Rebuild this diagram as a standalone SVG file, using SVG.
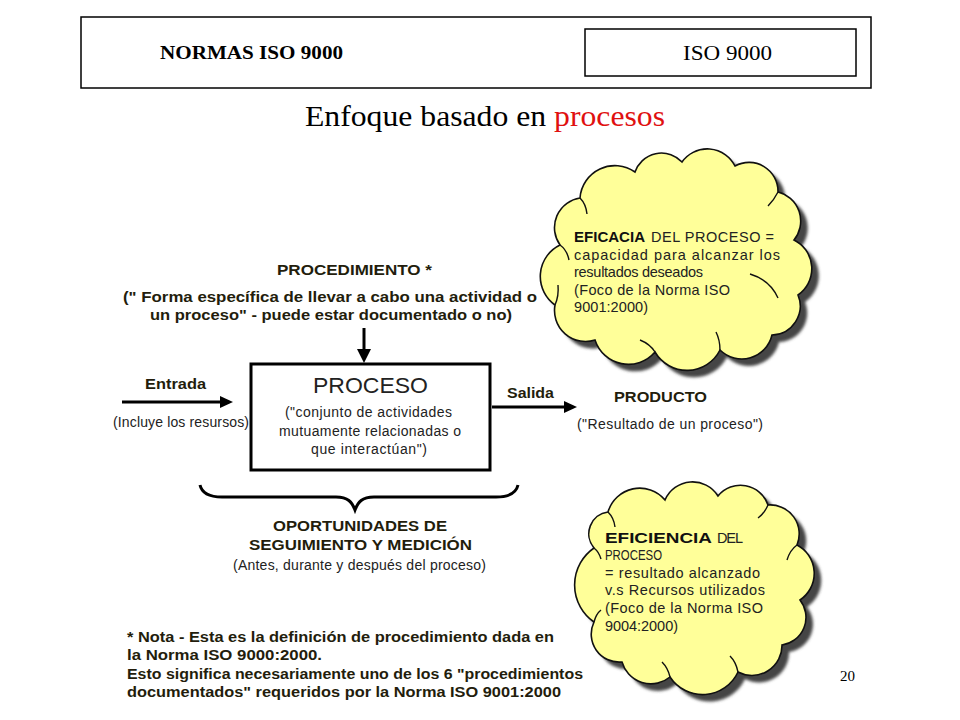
<svg xmlns="http://www.w3.org/2000/svg" width="960" height="720" viewBox="0 0 960 720">
<defs>
<style>
.serif{font-family:"Liberation Serif","Times New Roman",serif;fill:#000}
.sb{font-family:"Liberation Sans",Arial,sans-serif;font-weight:bold;fill:#231d0c}
.sr{font-family:"Liberation Sans",Arial,sans-serif;fill:#222}
.cr{font-family:"Liberation Sans",Arial,sans-serif;fill:#222;font-size:14.5px}
.cb{font-family:"Liberation Sans",Arial,sans-serif;font-weight:bold;fill:#111;font-size:14.5px}
.ln{stroke:#000;stroke-width:3;fill:none}
.cloud{fill:#ffff99;stroke:#111;stroke-width:1.6}
.curl{fill:none;stroke:#111;stroke-width:1.4}
.shadow{fill:#444}
</style>
<filter id="blur" x="-10%" y="-10%" width="120%" height="120%"><feGaussianBlur stdDeviation="1.6"/></filter>
<path id="c1" d="M560,245 A30,30 0 0 1 580,198 A35,35 0 0 1 635,172 A28,28 0 0 1 682,162 A31,31 0 0 1 735,166 A29,29 0 0 1 778,192 A30,30 0 0 1 794,240 A32,32 0 0 1 798,295 A29,29 0 0 1 772,335 A31,31 0 0 1 720,350 A37,37 0 0 1 655,352 A35,35 0 0 1 595,340 A31,31 0 0 1 555,305 A35,35 0 0 1 560,245 Z"/>
<path id="c2" d="M594,548 A22,22 0 0 1 608,512 A33,33 0 0 1 665,500 A30,30 0 0 1 718,496 A29,29 0 0 1 768,505 A29,29 0 0 1 797,545 A32,32 0 0 1 800,600 A28,28 0 0 1 782,645 A30,30 0 0 1 738,672 A39,39 0 0 1 670,677 A30,30 0 0 1 622,662 A28,28 0 0 1 594,622 A45,45 0 0 1 594,548 Z"/>
</defs>
<rect width="960" height="720" fill="#fff"/>

<g id="header">
<rect x="81" y="17" width="790" height="71" fill="none" stroke="#000" stroke-width="1.5"/>
<text class="serif" x="160" y="59" font-size="18" font-weight="bold" textLength="183" lengthAdjust="spacingAndGlyphs">NORMAS ISO 9000</text>
<rect x="585" y="29" width="271" height="47" fill="none" stroke="#000" stroke-width="1.5"/>
<text class="serif" x="683" y="60" font-size="21" textLength="89" lengthAdjust="spacingAndGlyphs">ISO 9000</text>
</g>

<g id="title">
<text class="serif" x="305" y="126" font-size="29" textLength="360" lengthAdjust="spacingAndGlyphs">Enfoque basado en <tspan fill="#e01010">procesos</tspan></text>
</g>

<g id="procedimiento">
<text class="sb" x="277" y="275" font-size="14" textLength="155" lengthAdjust="spacingAndGlyphs">PROCEDIMIENTO *</text>
<text class="sb" x="123" y="302" font-size="15" textLength="414" lengthAdjust="spacingAndGlyphs">(" Forma específica de llevar a cabo una actividad o</text>
<text class="sb" x="150" y="320" font-size="15" textLength="362" lengthAdjust="spacingAndGlyphs">un proceso" - puede estar documentado o no)</text>
</g>

<g id="proceso">
<rect x="251" y="364" width="239" height="106" fill="#fff" stroke="#000" stroke-width="3"/>
<text class="sr" x="313" y="393" font-size="22" textLength="115" lengthAdjust="spacingAndGlyphs">PROCESO</text>
<text class="sr" x="285" y="417" font-size="14" textLength="167" lengthAdjust="spacing">("conjunto de actividades</text>
<text class="sr" x="279" y="436" font-size="14" textLength="182" lengthAdjust="spacing">mutuamente relacionadas o</text>
<text class="sr" x="311" y="454" font-size="14" textLength="116" lengthAdjust="spacing">que interactúan")</text>
</g>

<g id="entrada">
<text class="sb" x="145" y="389" font-size="14" textLength="61" lengthAdjust="spacingAndGlyphs">Entrada</text>
<text class="sr" x="113" y="427" font-size="14" textLength="136" lengthAdjust="spacing">(Incluye los resursos)</text>
</g>

<g id="salida">
<text class="sb" x="507" y="398" font-size="14" textLength="47" lengthAdjust="spacingAndGlyphs">Salida</text>
</g>

<g id="producto">
<text class="sb" x="614" y="402" font-size="14" textLength="93" lengthAdjust="spacingAndGlyphs">PRODUCTO</text>
<text class="sr" x="577" y="429" font-size="14" textLength="186" lengthAdjust="spacing">("Resultado de un proceso")</text>
</g>

<g id="oportunidades">
<text class="sb" x="273" y="531" font-size="14" textLength="174" lengthAdjust="spacingAndGlyphs">OPORTUNIDADES DE</text>
<text class="sb" x="249" y="550" font-size="14" textLength="223" lengthAdjust="spacingAndGlyphs">SEGUIMIENTO Y MEDICIÓN</text>
<text class="sr" x="233" y="570" font-size="14" textLength="253" lengthAdjust="spacing">(Antes, durante y después del proceso)</text>
</g>

<g id="nota">
<text class="sb" x="127" y="642" font-size="14" textLength="427" lengthAdjust="spacingAndGlyphs">* Nota - Esta es la definición de procedimiento dada en</text>
<text class="sb" x="127" y="660" font-size="14" textLength="195" lengthAdjust="spacingAndGlyphs">la Norma ISO 9000:2000.</text>
<text class="sb" x="127" y="679" font-size="14" textLength="456" lengthAdjust="spacingAndGlyphs">Esto significa necesariamente uno de los 6 "procedimientos</text>
<text class="sb" x="127" y="697" font-size="14" textLength="434" lengthAdjust="spacingAndGlyphs">documentados" requeridos por la Norma ISO 9001:2000</text>
</g>

<g id="connectors">
<line class="ln" x1="364" y1="328" x2="364" y2="351"/>
<polygon points="357,349 371,349 364,363" fill="#000"/>
<line class="ln" x1="122" y1="402" x2="222" y2="402"/>
<polygon points="220,396 220,408 233,402" fill="#000"/>
<line class="ln" x1="492" y1="407" x2="566" y2="407"/>
<polygon points="564,401 564,413 577,407" fill="#000"/>
<path class="ln" d="M200,485 C202,494 210,497 222,497 L336,497 C348,497 352,502 355,510 C358,502 362,497 374,497 L496,497 C508,497 516,494 518,485"/>
</g>

<g id="cloud-eficacia">
<use href="#c1" class="shadow" transform="translate(7,7)" filter="url(#blur)"/>
<use href="#c1" class="cloud"/>
<path class="curl" d="M560,245 Q567,250 569,260"/>
<path class="curl" d="M580,198 Q586,204 587,214"/>
<path class="curl" d="M778,192 Q774,200 768,206"/>
<path class="curl" d="M750,274 Q770,280 778,298"/>
<path class="curl" d="M555,305 Q559,296 558,285"/>
<path class="curl" d="M720,350 Q720,340 716,332"/>
<path class="curl" d="M655,352 Q650,344 640,340"/>
<text class="cb" x="574" y="242" textLength="71" lengthAdjust="spacingAndGlyphs">EFICACIA</text>
<text class="cr" x="651" y="242" textLength="123" lengthAdjust="spacing">DEL PROCESO =</text>
<text class="cr" x="574" y="260" textLength="206" lengthAdjust="spacing">capacidad para alcanzar los</text>
<text class="cr" x="574" y="277" textLength="129" lengthAdjust="spacing">resultados deseados</text>
<text class="cr" x="574" y="295" textLength="156" lengthAdjust="spacing">(Foco de la Norma ISO</text>
<text class="cr" x="574" y="312" textLength="74" lengthAdjust="spacing">9001:2000)</text>
</g>

<g id="cloud-eficiencia">
<use href="#c2" class="shadow" transform="translate(7,7)" filter="url(#blur)"/>
<use href="#c2" class="cloud"/>
<path class="curl" d="M594,548 Q599,552 601,559"/>
<path class="curl" d="M608,512 Q614,518 615,527"/>
<path class="curl" d="M768,505 Q764,514 758,518"/>
<path class="curl" d="M797,545 Q790,550 787,560"/>
<path class="curl" d="M594,622 Q596,614 601,610"/>
<path class="curl" d="M670,677 Q668,668 662,662"/>
<path class="curl" d="M738,672 Q736,662 730,656"/>
<text class="cb" x="605" y="543" textLength="107" lengthAdjust="spacingAndGlyphs">EFICIENCIA</text>
<text class="cr" x="717" y="543" textLength="26" lengthAdjust="spacing">DEL</text>
<text class="cr" x="605" y="560" textLength="57" lengthAdjust="spacingAndGlyphs">PROCESO</text>
<text class="cr" x="605" y="578" textLength="155" lengthAdjust="spacing">= resultado alcanzado</text>
<text class="cr" x="605" y="595" textLength="160" lengthAdjust="spacing">v.s Recursos utilizados</text>
<text class="cr" x="605" y="613" textLength="158" lengthAdjust="spacing">(Foco de la Norma ISO</text>
<text class="cr" x="605" y="631" textLength="73" lengthAdjust="spacing">9004:2000)</text>
</g>

<g id="page-number">
<text class="serif" x="840" y="681" font-size="15">20</text>
</g>
</svg>
